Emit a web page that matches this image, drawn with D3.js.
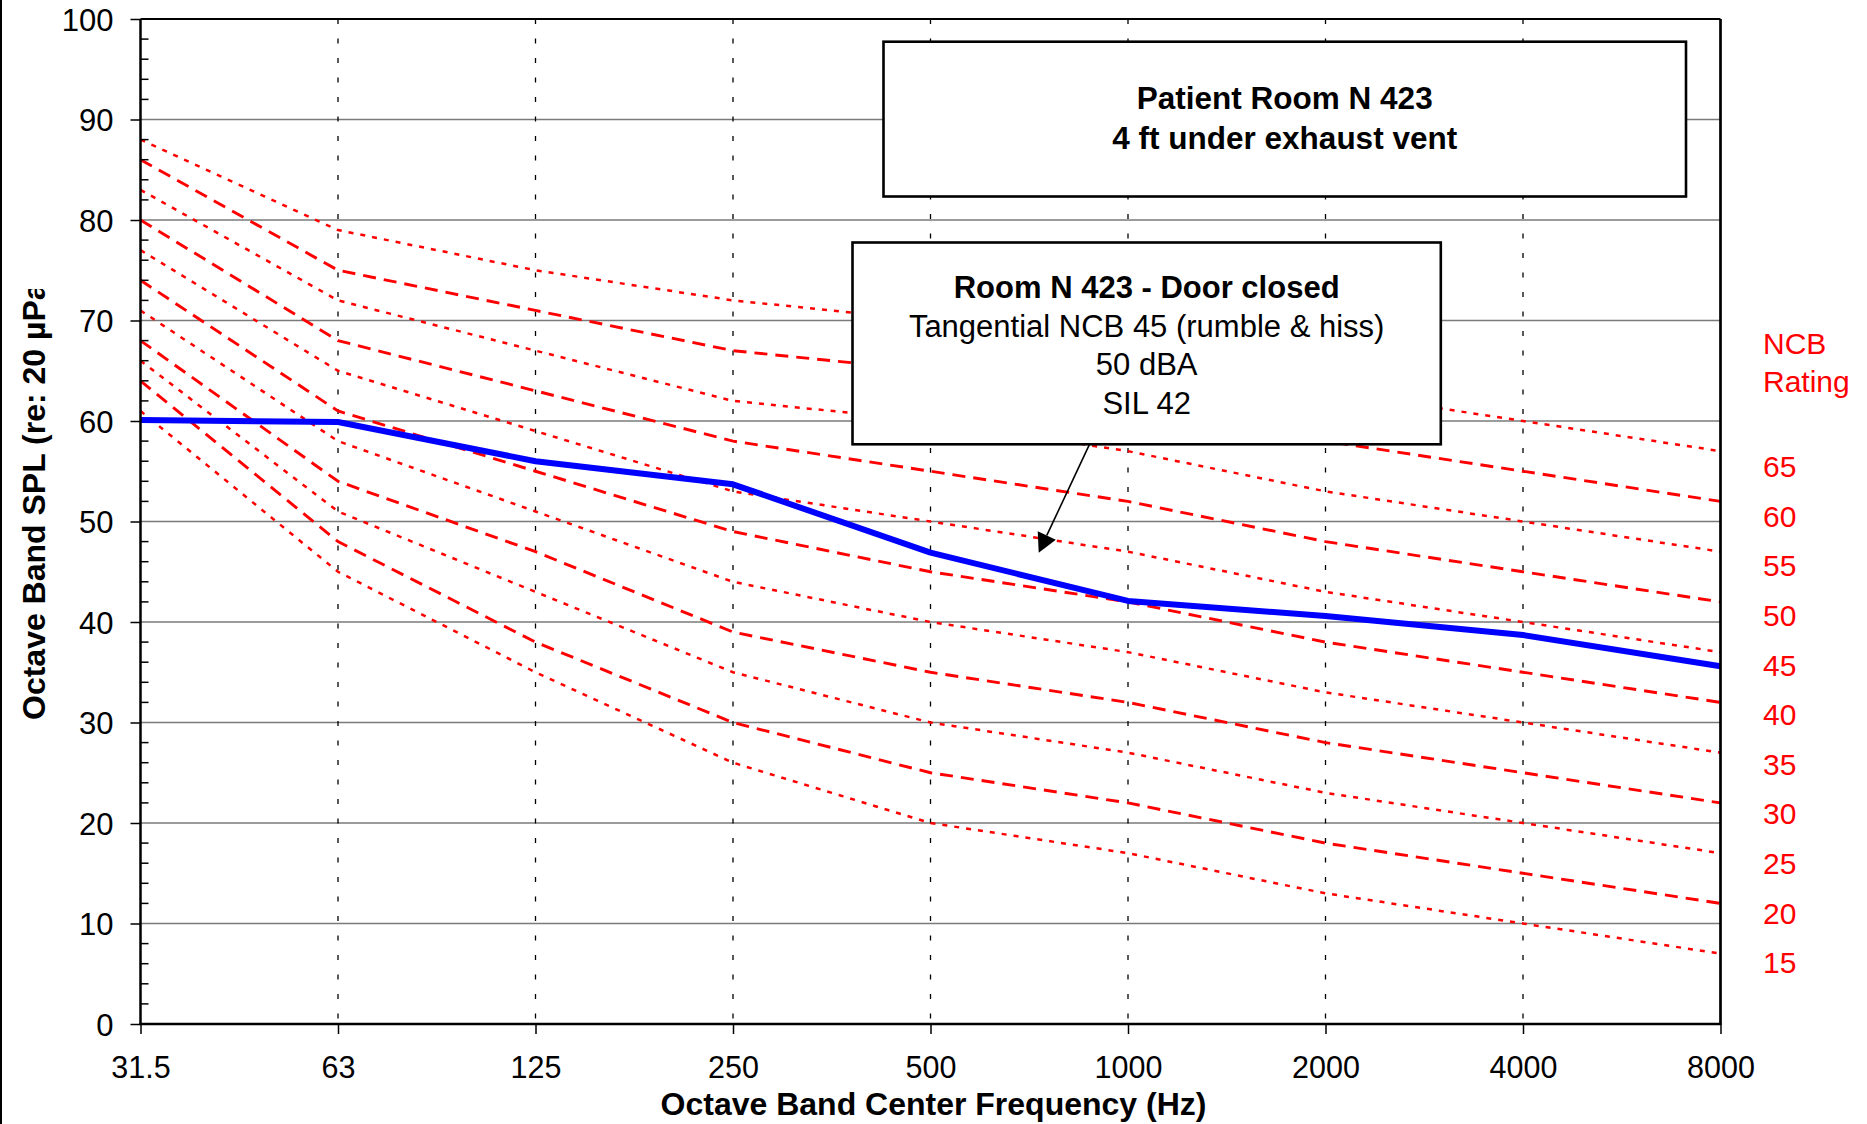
<!DOCTYPE html>
<html><head><meta charset="utf-8">
<script src="https://cdn.jsdelivr.net/npm/d3@7"></script>
<style>
body{margin:0;background:#fff}
svg{display:block}
text{font-family:"Liberation Sans",Arial,Helvetica,sans-serif}
</style>
</head><body>
<svg id="chart" width="1867" height="1124"></svg>
<script>
// ---------- data ----------
const frequencies = ["31.5","63","125","250","500","1000","2000","4000","8000"];
const yTickValues = [0,10,20,30,40,50,60,70,80,90,100];
const ncbRatings = [65,60,55,50,45,40,35,30,25,20,15];

const ncb65 = [88,79,75,72,70,67,63,60,57];
const ncb60 = [86,75,71,67,65,62,58,55,52];
const ncb55 = [83,72,67,62,60,57,53,50,47];
const ncb50 = [80,68,63,58,55,52,48,45,42];
const ncb45 = [77,65,59,53,50,47,43,40,37];
const ncb40 = [74,61,55,49,45,42,38,35,32];
const ncb35 = [71,58,51,44,40,37,33,30,27];
const ncb30 = [68,54,47,39,35,32,28,25,22];
const ncb25 = [66,51,43,35,30,27,23,20,17];
const ncb20 = [64,48,38,30,25,22,18,15,12];
const ncb15 = [61,45,35,26,20,17,13,10,7];

const measuredRoomN423 = [60.1,59.9,56.0,53.7,46.9,42.1,40.6,38.7,35.6];

const titleLines = ["Patient Room N 423","4 ft under exhaust vent"];
const noteLines = ["Room N 423 - Door closed","Tangential NCB 45 (rumble & hiss)","50 dBA","SIL 42"];
const xAxisTitle = "Octave Band Center Frequency (Hz)";
const yAxisTitle = "Octave Band SPL (re: 20 µPa)";
const ncbAxisTitle = ["NCB","Rating"];
// arrow annotation in data space (category index, dB)
const arrowFrom = {i: 4.805, v: 57.7};
const arrowTo = {i: 4.548, v: 46.9};

const ncbCurves = [
  {rating:65, values:ncb65},{rating:60, values:ncb60},{rating:55, values:ncb55},
  {rating:50, values:ncb50},{rating:45, values:ncb45},{rating:40, values:ncb40},
  {rating:35, values:ncb35},{rating:30, values:ncb30},{rating:25, values:ncb25},
  {rating:20, values:ncb20},{rating:15, values:ncb15}
];

// ---------- layout ----------
const L = 140.5, R = 1720.5, T = 19, B = 1024;
const svg = d3.select("#chart");

const x = d3.scalePoint().domain(frequencies).range([L, R]).padding(0);
const xi = d3.scaleLinear().domain([0, frequencies.length - 1]).range([L, R]);
const y = d3.scaleLinear().domain([0, 100]).range([B, T]);

// outer border line at left
svg.append("line").attr("x1",1).attr("x2",1).attr("y1",0).attr("y2",1124)
  .attr("stroke","#000").attr("stroke-width",2);

// horizontal gridlines
svg.append("g").selectAll("line").data(yTickValues.filter(v => v > 0 && v < 100)).join("line")
  .attr("x1", L).attr("x2", R).attr("y1", d => y(d)).attr("y2", d => y(d))
  .attr("stroke", "#7a7a7a").attr("stroke-width", 1.5);

// vertical dashed gridlines
svg.append("g").selectAll("line").data(frequencies.slice(1, -1)).join("line")
  .attr("x1", d => x(d)).attr("x2", d => x(d)).attr("y1", T).attr("y2", B)
  .attr("stroke", "#000").attr("stroke-width", 1.3).attr("stroke-dasharray", "5,14.5");

// NCB curves
const line = d3.line().x((d, i) => x(frequencies[i])).y(d => y(d));
svg.append("g").selectAll("path").data(ncbCurves).join("path")
  .attr("d", d => line(d.values))
  .attr("fill", "none")
  .attr("stroke", "#ff0000")
  .attr("stroke-width", d => d.rating % 10 === 0 ? 2.9 : 2.5)
  .attr("stroke-dasharray", d => d.rating % 10 === 0 ? "13,8" : "5,7");

// measured spectrum
svg.append("path").attr("d", line(measuredRoomN423))
  .attr("fill","none").attr("stroke","#0000ff").attr("stroke-width",6)
  .attr("stroke-linejoin","round").attr("stroke-linecap","butt");

// y axis: major ticks outward, minor ticks inward
const yAxis = d3.axisLeft(y).tickValues(yTickValues).tickSize(10).tickPadding(17).tickFormat(d3.format("d"));
const gy = svg.append("g").attr("transform", `translate(${L},0)`).call(yAxis);
gy.select(".domain").remove();
gy.selectAll(".tick line").attr("stroke","#000").attr("stroke-width",1.5);
gy.selectAll(".tick text").attr("font-size",31).attr("fill","#000").attr("dy","0.358em")
  .attr("font-family",'"Liberation Sans",Arial,sans-serif');
const minor = d3.range(0, 101, 2).filter(v => v % 10 !== 0);
svg.append("g").selectAll("line").data(minor).join("line")
  .attr("x1", L).attr("x2", L + 8).attr("y1", d => y(d)).attr("y2", d => y(d))
  .attr("stroke","#000").attr("stroke-width",1.5);

// x axis
const xAxis = d3.axisBottom(x).tickSize(10).tickPadding(22);
const gx = svg.append("g").attr("transform", `translate(0,${B})`).call(xAxis);
gx.select(".domain").remove();
gx.selectAll(".tick line").attr("stroke","#000").attr("stroke-width",1.5);
gx.selectAll(".tick text").attr("font-size",30.5).attr("fill","#000").attr("dy","0.71em")
  .attr("font-family",'"Liberation Sans",Arial,sans-serif');

// plot frame
svg.append("line").attr("x1",L).attr("x2",R).attr("y1",T).attr("y2",T).attr("stroke","#000").attr("stroke-width",2);
svg.append("line").attr("x1",R).attr("x2",R).attr("y1",T).attr("y2",B).attr("stroke","#000").attr("stroke-width",2.7);
svg.append("line").attr("x1",L).attr("x2",L).attr("y1",T).attr("y2",B).attr("stroke","#000").attr("stroke-width",2.5);
svg.append("line").attr("x1",L-1).attr("x2",R+1).attr("y1",B).attr("y2",B).attr("stroke","#000").attr("stroke-width",2.5);

// axis titles
svg.append("text").attr("x",(L+R)/2 + 3).attr("y",1115).attr("text-anchor","middle")
  .attr("font-size",32).attr("font-weight","bold").text(xAxisTitle);
svg.append("clipPath").attr("id","ytclip").append("rect").attr("x",0).attr("y",289).attr("width",120).attr("height",800);
svg.append("g").attr("clip-path","url(#ytclip)")
  .append("text").attr("transform","translate(45,720) rotate(-90)").attr("text-anchor","start")
  .attr("font-size",32).attr("font-weight","bold").text(yAxisTitle);

// NCB rating labels on right
const rg = svg.append("g").attr("fill","#ff0000").attr("font-size",30);
rg.selectAll("text.h").data(ncbAxisTitle).join("text").attr("class","h")
  .attr("x",1763).attr("y",(d,i)=>343 + i*38.6).attr("dy","0.358em").text(d=>d);
rg.selectAll("text.n").data(ncbRatings).join("text").attr("class","n")
  .attr("x",1763).attr("y",(d,i)=>466.5 + i*49.6).attr("dy","0.358em").text(d=>d);

// title box
const b1 = {x:883.5, y:41.7, w:802.5, h:154.8};
svg.append("rect").attr("x",b1.x).attr("y",b1.y).attr("width",b1.w).attr("height",b1.h)
  .attr("fill","#fff").attr("stroke","#000").attr("stroke-width",2.6);
svg.append("g").selectAll("text").data(titleLines).join("text")
  .attr("x",b1.x + b1.w/2).attr("y",(d,i)=>97.8 + i*40.4).attr("dy","0.358em")
  .attr("text-anchor","middle").attr("font-size",31.5).attr("font-weight","bold").text(d=>d);

// note box
const b2 = {x:852.5, y:242.5, w:588.3, h:201.8};
svg.append("rect").attr("x",b2.x).attr("y",b2.y).attr("width",b2.w).attr("height",b2.h)
  .attr("fill","#fff").attr("stroke","#000").attr("stroke-width",2.6);
svg.append("g").selectAll("text").data(noteLines).join("text")
  .attr("x",b2.x + b2.w/2).attr("y",(d,i)=>287 + i*38.7).attr("dy","0.358em")
  .attr("text-anchor","middle").attr("font-size",31)
  .attr("font-weight",(d,i)=> i===0 ? "bold" : "normal").text(d=>d);

// arrow
const ax1 = xi(arrowFrom.i), ay1 = b2.y + b2.h, ax2 = xi(arrowTo.i), ay2 = y(arrowTo.v);
const dx = ax2-ax1, dy = ay2-ay1, len = Math.hypot(dx,dy), ux = dx/len, uy = dy/len;
const hl = 19, hw = 10;
const bx = ax2 - ux*hl, by = ay2 - uy*hl;
svg.append("line").attr("x1",ax1).attr("y1",ay1).attr("x2",bx).attr("y2",by)
  .attr("stroke","#000").attr("stroke-width",1.6);
svg.append("path").attr("d",`M${ax2},${ay2}L${bx - uy*hw},${by + ux*hw}L${bx + uy*hw},${by - ux*hw}Z`)
  .attr("fill","#000");
</script>
</body></html>
